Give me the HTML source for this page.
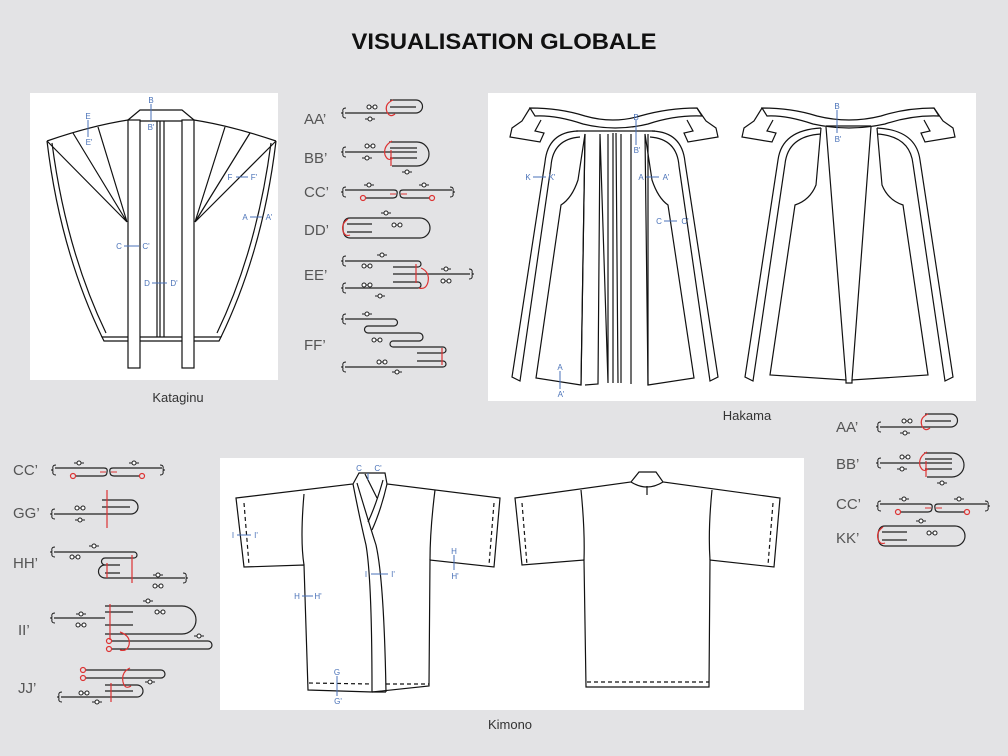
<!DOCTYPE html>
<html><head><meta charset="utf-8"><style>
html,body{margin:0;padding:0;background:#e3e3e5;}
svg{display:block;}
.t{font-family:"Liberation Sans",sans-serif;}
</style></head><body>
<svg width="1008" height="756" viewBox="0 0 1008 756" xmlns="http://www.w3.org/2000/svg">
<defs>
<g id="p1"><line x1="-5" y1="0" x2="5" y2="0" stroke="#222" stroke-width="1"/><circle cx="0" cy="0" r="2" fill="#fff" stroke="#222" stroke-width="1"/></g>
<g id="p2"><line x1="-3" y1="0" x2="3" y2="0" stroke="#222" stroke-width="1"/><circle cx="-3" cy="0" r="2" fill="#fff" stroke="#222" stroke-width="1"/><circle cx="3" cy="0" r="2" fill="#fff" stroke="#222" stroke-width="1"/></g>
<path id="brL" d="M4,-5 Q0,-5 1,-1 Q1,0 -1,0 Q1,0 1,1 Q0,5 4,5" fill="none" stroke="#222" stroke-width="1"/>
<path id="brR" d="M-4,-5 Q0,-5 -1,-1 Q-1,0 1,0 Q-1,0 -1,1 Q0,5 -4,5" fill="none" stroke="#222" stroke-width="1"/>
<g id="gAA">
 <use href="#brL" x="342" y="113"/>
 <path d="M345,113 H416 A6.5,6.5 0 0 0 416,100 H390" fill="none" stroke="#222" stroke-width="1.2"/>
 <path d="M390,107 H416" fill="none" stroke="#222" stroke-width="1.2"/>
 <use href="#p2" x="372" y="107"/><use href="#p1" x="370" y="119"/>
 <path d="M393,100 Q384,104 387,112 Q390,118 395,114" fill="none" stroke="#d33" stroke-width="1.2"/>
</g>
<g id="gBB">
 <use href="#brL" x="342" y="152"/>
 <path d="M345,152 H417 M389,142 H417 A12,12 0 0 1 417,166 H392 M390,148 H417 M390,158 H417" fill="none" stroke="#222" stroke-width="1.2"/>
 <use href="#p2" x="370" y="146"/><use href="#p1" x="367" y="158"/><use href="#p1" x="407" y="172"/>
 <path d="M392,141 Q383,146 385,155 Q388,162 393,158 M391,150 V166" fill="none" stroke="#d33" stroke-width="1.2"/>
</g>
<g id="gCC">
 <use href="#brL" x="342" y="192"/><use href="#brR" x="454" y="192"/>
 <path d="M345,190 H394 Q398,190 397,194 Q397,198 393,198 H365 M452,190 H403 Q399,190 400,194 Q400,198 404,198 H430" fill="none" stroke="#222" stroke-width="1.2"/>
 <circle cx="363" cy="198" r="2.5" fill="none" stroke="#d33" stroke-width="1.2"/><circle cx="432" cy="198" r="2.5" fill="none" stroke="#d33" stroke-width="1.2"/>
 <path d="M390,194 H396 M401,194 H407" stroke="#d33" stroke-width="1"/>
 <use href="#p1" x="369" y="185"/><use href="#p1" x="424" y="185"/>
</g>
<g id="gDD">
 <path d="M350,218 H420 A10,10 0 0 1 420,238 H350 Q343,238 343,228 Q343,218 350,218 M347,224 H372 M347,232 H372" fill="none" stroke="#222" stroke-width="1.2"/>
 <use href="#p1" x="386" y="213"/><use href="#p2" x="397" y="225"/>
 <path d="M348,219 Q341,224 343,231 Q345,237 350,235" fill="none" stroke="#d33" stroke-width="1.2"/>
</g>
</defs>

<!-- title -->
<text x="504" y="49" text-anchor="middle" class="t" font-size="22" font-weight="bold" fill="#111" textLength="305" lengthAdjust="spacingAndGlyphs">VISUALISATION GLOBALE</text>

<!-- panels -->
<rect x="30" y="93" width="248" height="287" fill="#fff"/>
<rect x="488" y="93" width="488" height="308" fill="#fff"/>
<rect x="220" y="458" width="584" height="252" fill="#fff"/>

<g fill="none" stroke="#111" stroke-width="1.2">
<!-- KATAGINU -->
<path d="M47,141 Q90,126 128,120 M194,120 Q232,126 276,141"/>
<path d="M47,141 L127,222 M73,133 L127,222 M98,127 L127,222"/>
<path d="M276,141 L195,222 M250,133 L195,222 M225,127 L195,222"/>
<path d="M47,141 Q60,250 102,337 M52,143 Q66,250 106,333"/>
<path d="M276,141 Q263,250 221,337 M271,143 Q257,250 217,333"/>
<path d="M102,337 H221 L219,341 H104 Z" fill="#fff"/>
<rect x="128" y="120" width="12" height="248" fill="#fff"/>
<rect x="182" y="120" width="12" height="248" fill="#fff"/>
<path d="M128,120 L140,110 H182 L194,120 M140,121 H182 M157,121 V337 M160,121 V337 M164,121 V337"/>

<!-- HAKAMA FRONT -->
<path d="M530,108 Q560,108 585,116 Q613,124 640,116 Q668,108 697,108 L702,116 Q675,115 648,124 Q615,132 583,124 Q556,115 535,116 Z" fill="#fff"/>
<path d="M530,108 L522,121 L512,128 L510,137 L540,142 L544,133 L535,131 L541,120"/>
<path d="M697,108 L706,121 L716,128 L718,137 L688,142 L684,133 L693,131 L687,120"/>
<path d="M576,131 H655"/>
<path d="M578,131 Q548,132 545,162 L512,377 L520,381 L551,166 Q553,139 580,137"/>
<path d="M652,131 Q682,132 685,162 L718,377 L710,381 L679,166 Q677,139 650,137"/>
<path d="M585,134 L578,180 Q572,198 561,205 L536,378 L581,385 Z"/>
<path d="M645,134 L652,180 Q658,198 668,205 L694,378 L648,385 Z"/>
<path d="M585,134 L581,385 M600,134 L598,384 L585,385 M608,134 L608,383 M613,133 L613,383 M616,133 L618,383 M621,134 L621,383 M631,134 L631,384 M648,134 L648,385 M600,134 L608,383"/>
<!-- HAKAMA BACK -->
<path d="M762,108 Q792,108 817,116 Q849,124 881,116 Q906,108 934,108 L939,116 Q912,115 885,124 Q849,132 813,124 Q786,115 767,116 Z" fill="#fff"/>
<path d="M762,108 L754,121 L744,128 L742,137 L772,142 L776,133 L767,131 L773,120"/>
<path d="M934,108 L943,121 L953,128 L955,137 L925,142 L921,133 L930,131 L924,120"/>
<path d="M821,128 Q782,130 778,160 L745,377 L753,381 L785,164 Q788,136 821,134"/>
<path d="M877,128 Q916,130 920,160 L953,377 L945,381 L913,164 Q910,136 877,134"/>
<path d="M821,128 L816,185 Q810,200 795,205 L770,375 L846,380 L826,127"/>
<path d="M877,128 L882,185 Q888,200 903,205 L928,375 L852,380 L871,127"/>
<path d="M826,126 H871 M846,380 V383 H852 V380"/>

<!-- KIMONO FRONT -->
<path d="M236,498 L353,484 L359,473 H385 L387,484 L500,498 L494,567 L430,560 L429,686 L372,692 L308,690 L304,565 L244,567 Z" fill="#fff"/>
<path d="M304,494 Q300,540 304,565 M435,490 Q430,530 430,560"/>
<path d="M353,484 Q360,520 366,545 Q372,580 372,692 M357,483 Q368,520 376,545 Q384,580 386,692 M372,692 H386"/>
<path d="M387,484 Q381,510 372,530 M383,480 Q376,505 368,522 M365,474 L377,498"/>
<path d="M244,503 L249,565 M494,503 L489,565 M309,683 L372,684 M386,684 H429" stroke-dasharray="4,3"/>
<!-- KIMONO BACK -->
<path d="M515,498 L631,482 L639,472 H656 L663,482 L780,498 L774,567 L710,560 L709,687 L586,687 L584,560 L522,565 Z" fill="#fff"/>
<path d="M581,490 Q585,530 584,560 M712,490 Q708,530 710,560 M631,482 Q647,492 663,482 M647,486 V495"/>
<path d="M522,503 L527,565 M773,503 L768,565 M587,682 H709" stroke-dasharray="4,3"/>
</g>

<!-- blue markers -->
<g stroke="#4a72b8" stroke-width="1" fill="none">
<path d="M151,104 V121 M88,120 V137 M236,177 H248 M250,217 H262 M124,246 H139 M152,283 H167"/>
<path d="M636,120 V145 M533,177 H546 M646,177 H659 M664,221 H677 M560,371 V389 M837,110 V133"/>
<path d="M237,535 H251 M454,555 V570 M371,574 H388 M302,596 H313 M337,676 V696 M368,473 V480"/>
</g>
<g class="t" font-size="8" fill="#4a72b8" text-anchor="middle">
<text x="151" y="103">B</text><text x="151" y="130">B'</text>
<text x="88" y="119">E</text><text x="89" y="145">E'</text>
<text x="230" y="180">F</text><text x="254" y="180">F'</text>
<text x="245" y="220">A</text><text x="269" y="220">A'</text>
<text x="119" y="249">C</text><text x="146" y="249">C'</text>
<text x="147" y="286">D</text><text x="174" y="286">D'</text>
<text x="636" y="120">B</text><text x="637" y="153">B'</text>
<text x="528" y="180">K</text><text x="552" y="180">K'</text>
<text x="641" y="180">A</text><text x="666" y="180">A'</text>
<text x="659" y="224">C</text><text x="685" y="224">C'</text>
<text x="560" y="370">A</text><text x="561" y="397">A'</text>
<text x="837" y="109">B</text><text x="838" y="142">B'</text>
<text x="359" y="471">C</text><text x="378" y="471">C'</text>
<text x="233" y="538">I</text><text x="256" y="538">I'</text>
<text x="454" y="554">H</text><text x="455" y="579">H'</text>
<text x="366" y="577">I</text><text x="393" y="577">I'</text>
<text x="297" y="599">H</text><text x="318" y="599">H'</text>
<text x="337" y="675">G</text><text x="338" y="704">G'</text>
</g>

<!-- captions -->
<g class="t" font-size="13" fill="#333" text-anchor="middle">
<text x="178" y="402">Kataginu</text>
<text x="747" y="420">Hakama</text>
<text x="510" y="729">Kimono</text>
</g>

<!-- seam labels -->
<g class="t" font-size="15" fill="#555">
<text x="304" y="124">AA’</text><text x="304" y="163">BB’</text><text x="304" y="197">CC’</text>
<text x="304" y="235">DD’</text><text x="304" y="280">EE’</text><text x="304" y="350">FF’</text>
<text x="836" y="432">AA’</text><text x="836" y="469">BB’</text><text x="836" y="509">CC’</text><text x="836" y="543">KK’</text>
<text x="13" y="475">CC’</text><text x="13" y="518">GG’</text><text x="13" y="568">HH’</text><text x="18" y="635">II’</text><text x="18" y="693">JJ’</text>
</g>

<!-- column 1 seams -->
<use href="#gAA"/><use href="#gBB"/><use href="#gCC"/><use href="#gDD"/>
<g fill="none" stroke="#222" stroke-width="1.2">
 <use href="#brL" x="342" y="261"/><use href="#brL" x="342" y="288"/><use href="#brR" x="473" y="274"/>
 <path d="M345,261 H418 A3,3 0 0 1 418,267 H393 M393,274 H470 M393,282 H418 A3,3 0 0 1 418,288 H345"/>
 <use href="#brL" x="342" y="319"/><use href="#brL" x="342" y="367"/>
 <path d="M345,319 H394 A3.5,3.5 0 0 1 394,326 H368 A3.5,3.5 0 0 0 368,333 H419 A4,4 0 0 1 419,341 H393 A3,3 0 0 0 393,347 H443 A3,3 0 0 1 443,353 H417 M417,361 H443 A3,3 0 0 1 443,367 H345"/>
</g>
<use href="#p1" x="382" y="255"/><use href="#p2" x="367" y="266"/><use href="#p1" x="446" y="269"/><use href="#p2" x="446" y="281"/><use href="#p2" x="367" y="285"/><use href="#p1" x="380" y="296"/>
<use href="#p1" x="367" y="314"/><use href="#p2" x="377" y="340"/><use href="#p2" x="382" y="362"/><use href="#p1" x="397" y="372"/>
<path d="M416,264 V283 M421,268 Q430,272 428,282 Q426,290 419,288 M442,348 V365" fill="none" stroke="#d33" stroke-width="1.2"/>

<!-- right column -->
<g transform="translate(535,314)"><use href="#gAA"/><use href="#gBB" transform="translate(0,-3)"/><use href="#gCC"/><use href="#gDD" transform="translate(0,-6)"/></g>

<!-- left column -->
<g transform="translate(-290,278)"><use href="#gCC"/></g>
<g fill="none" stroke="#222" stroke-width="1.2">
 <use href="#brL" x="51" y="514"/>
 <path d="M54,514 H131 A7,7 0 0 0 131,500 H102 M102,507 H130"/>
 <use href="#brL" x="51" y="552"/><use href="#brR" x="187" y="578"/>
 <path d="M54,552 H134 A3,3 0 0 1 134,558 H105 A3.5,3.5 0 0 0 105,565 H120 M105,573 H120 M105,565 A3,3 0 0 0 105,578 M105,578 H185"/>
 <use href="#brL" x="51" y="618"/>
 <path d="M54,618 H105 M105,606 H182 A14,14 0 0 1 182,634 H105 M105,612 H133 M105,625 H133 M111,641 H208 A4,4 0 0 1 208,649 H112"/>
 <use href="#brL" x="58" y="697"/>
 <path d="M86,670 H161 A4,4 0 0 1 161,678 H86 M61,697 H137 A6,6 0 0 0 137,685 H105 M105,691 H133"/>
</g>
<use href="#p2" x="80" y="508"/><use href="#p1" x="80" y="520"/>
<use href="#p1" x="94" y="546"/><use href="#p2" x="75" y="557"/><use href="#p1" x="158" y="575"/><use href="#p2" x="158" y="586"/>
<use href="#p1" x="81" y="614"/><use href="#p2" x="81" y="625"/><use href="#p1" x="148" y="601"/><use href="#p2" x="160" y="612"/><use href="#p1" x="199" y="636"/>
<use href="#p1" x="150" y="682"/><use href="#p2" x="84" y="693"/><use href="#p1" x="97" y="702"/>
<g fill="none" stroke="#d33" stroke-width="1.2">
 <path d="M107,490 V528 M107,563 V578 M132,555 V583 M110,604 V640 M111,683 V702"/>
 <circle cx="109" cy="641" r="2.5"/><circle cx="109" cy="649" r="2.5"/>
 <circle cx="83" cy="670" r="2.5"/><circle cx="83" cy="678" r="2.5"/>
 <path d="M120,632 Q131,636 129,645 Q127,652 120,650 M130,668 Q121,672 123,682 Q125,690 131,686"/>
</g>
</svg>
</body></html>
